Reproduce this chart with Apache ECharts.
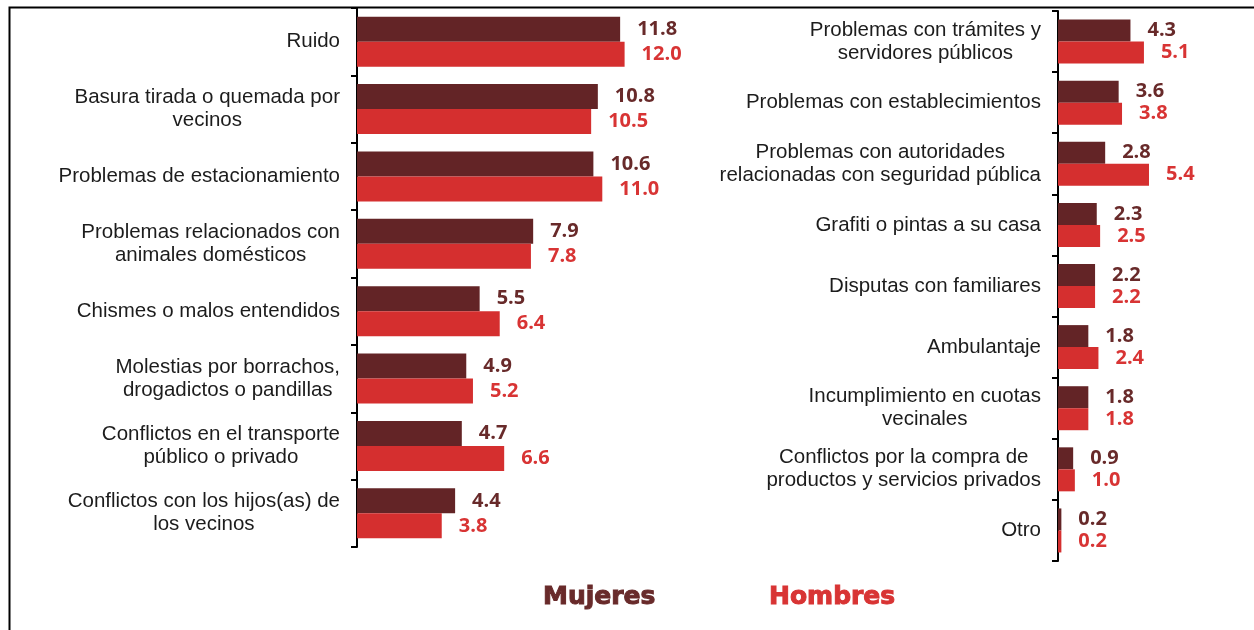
<!DOCTYPE html>
<html>
<head>
<meta charset="utf-8">
<script src="https://cdn.jsdelivr.net/npm/echarts@6/dist/echarts.min.js"></script>
<style>
  html, body { margin: 0; padding: 0; background: #fff; }
  #chart { width: 1254px; height: 630px; }
</style>
</head>
<body>
<div id="chart"></div>
<script>
// left block
const leftCats = [
  'Ruido',
  'Basura tirada o quemada por\nvecinos',
  'Problemas de estacionamiento',
  'Problemas relacionados con\nanimales domésticos',
  'Chismes o malos entendidos',
  'Molestias por borrachos,\ndrogadictos o pandillas',
  'Conflictos en el transporte\npúblico o privado',
  'Conflictos con los hijos(as) de\nlos vecinos'
];
const leftMujeres = [11.8, 10.8, 10.6, 7.9, 5.5, 4.9, 4.7, 4.4];
const leftHombres = [12.0, 10.5, 11.0, 7.8, 6.4, 5.2, 6.6, 3.8];

// right block
const rightCats = [
  'Problemas con trámites y\nservidores públicos',
  'Problemas con establecimientos',
  'Problemas con autoridades\nrelacionadas con seguridad pública',
  'Grafiti o pintas a su casa',
  'Disputas con familiares',
  'Ambulantaje',
  'Incumplimiento en cuotas\nvecinales',
  'Conflictos por la compra de\nproductos y servicios privados',
  'Otro'
];
const rightMujeres = [4.3, 3.6, 2.8, 2.3, 2.2, 1.8, 1.8, 0.9, 0.2];
const rightHombres = [5.1, 3.8, 5.4, 2.5, 2.2, 2.4, 1.8, 1.0, 0.2];

const DARK = '#632426', RED = '#D52F2F';
const DARK_TXT = '#682A2A', RED_TXT = '#D83434';

function catAxis(gridIndex, cats){
  return {
    type: 'category', gridIndex: gridIndex, data: cats, inverse: true,
    axisLine: { lineStyle: { color: '#000', width: 2 } },
    axisTick: { show: true, length: 6, lineStyle: { color: '#000', width: 2 } },
    axisLabel: {
      interval: 0, margin: 17,
      formatter: function(v){ return v.split('\n').map(s => '{c|' + s + '}').join('\n'); },
      rich: { c: { align: 'center', fontSize: 20.5, fontFamily: 'Liberation Sans', color: '#1c1c1c', lineHeight: 23 } }
    }
  };
}

function valLabel(color){
  return { show: true, position: 'right', distance: 17, color: color, fontFamily: 'Open Sans', fontWeight: 'bold', fontSize: 20,
    formatter: function(p){ return p.value.toFixed(1); } };
}

function legendText(){
  return { fontFamily: 'DejaVu Sans', fontWeight: 'bold', fontSize: 25, lineHeight: 30, textBorderColor: 'inherit', textBorderWidth: 0 };
}

const chart = echarts.init(document.getElementById('chart'));
chart.setOption({
  animation: false,
  graphic: [ { type: 'rect', left: 7, top: 5, shape: { width: 1300, height: 700 }, style: { fill: 'none', stroke: '#000', lineWidth: 2 }, silent: true } ],
  legend: [
    { data: [{ name: 'Mujeres', textStyle: { color: DARK_TXT, textBorderColor: DARK_TXT, textBorderWidth: 1 } }], left: 533, top: 577, icon: 'rect', itemWidth: 0, itemHeight: 0, selectedMode: false,
      textStyle: legendText() },
    { data: [{ name: 'Hombres', textStyle: { color: RED_TXT, textBorderColor: RED_TXT, textBorderWidth: 1 } }], left: 759, top: 577, icon: 'rect', itemWidth: 0, itemHeight: 0, selectedMode: false,
      textStyle: legendText() }
  ],
  grid: [
    { left: 357, top: 8, width: 334.5, height: 539 },
    { left: 1058, top: 11, width: 168.5, height: 550 }
  ],
  xAxis: [
    { type: 'value', gridIndex: 0, min: 0, max: 15, show: false },
    { type: 'value', gridIndex: 1, min: 0, max: 10, show: false }
  ],
  yAxis: [ catAxis(0, leftCats), catAxis(1, rightCats) ],
  series: [
    { name: 'Mujeres', type: 'bar', xAxisIndex: 0, yAxisIndex: 0, data: leftMujeres, barWidth: 25, barGap: '0%', itemStyle: { color: DARK }, label: valLabel(DARK_TXT) },
    { name: 'Hombres', type: 'bar', xAxisIndex: 0, yAxisIndex: 0, data: leftHombres, barWidth: 25, barGap: '0%', itemStyle: { color: RED }, label: valLabel(RED_TXT) },
    { name: 'Mujeres', type: 'bar', xAxisIndex: 1, yAxisIndex: 1, data: rightMujeres, barWidth: 22, barGap: '0%', itemStyle: { color: DARK }, label: valLabel(DARK_TXT) },
    { name: 'Hombres', type: 'bar', xAxisIndex: 1, yAxisIndex: 1, data: rightHombres, barWidth: 22, barGap: '0%', itemStyle: { color: RED }, label: valLabel(RED_TXT) }
  ]
});
</script>
</body>
</html>
